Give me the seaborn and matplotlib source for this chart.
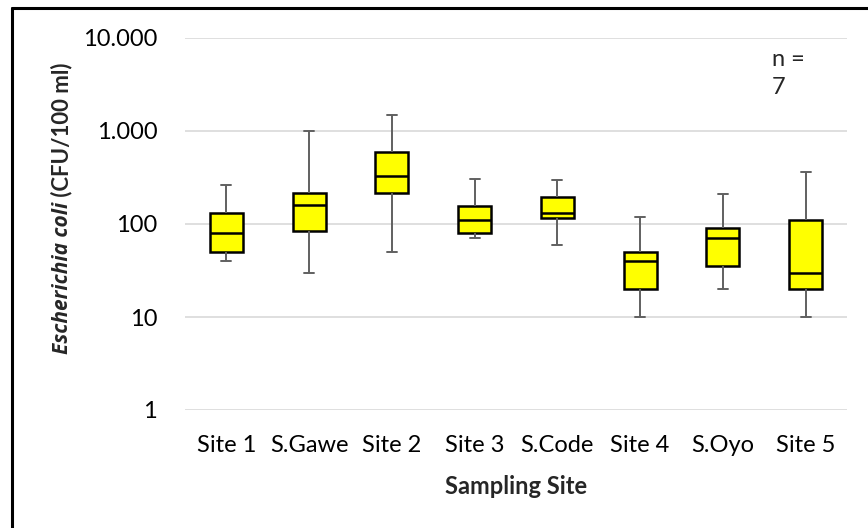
import numpy as np
import pandas as pd
import matplotlib
matplotlib.use("Agg")
import matplotlib.pyplot as plt
from matplotlib.lines import Line2D
from matplotlib import font_manager as fm
import seaborn as sns

# Five-number summaries (min, Q1, median, Q3, max) of E. coli counts per site
sites = ["Site 1", "S.Gawe", "Site 2", "Site 3", "S.Code", "Site 4", "S.Oyo", "Site 5"]
minimum = [40, 30, 50, 70, 60, 10, 20, 10]
q1 = [50, 85, 217, 80, 115, 20, 35, 20]
median = [80, 160, 330, 110, 130, 40, 70, 30]
q3 = [130, 215, 600, 155, 195, 50, 90, 110]
maximum = [262, 1000, 1490, 302, 300, 120, 210, 365]

ytick_values = [1, 10, 100, 1000, 10000]
ytick_labels = ["1", "10", "100", "1.000", "10.000"]

rows = []
for s, a, b, c, d, e in zip(sites, minimum, q1, median, q3, maximum):
    for v in (a, b, c, d, e):
        rows.append({"site": s, "count": v})
df = pd.DataFrame(rows)

sns.set_theme(style="white")
plt.rcParams["font.family"] = ["Lato", "DejaVu Sans"]


def bold_italic_file(candidates):
    """Font file of the first installed family that ships a bold italic face."""
    for fam in candidates:
        for f in fm.fontManager.ttflist:
            w = f.weight if isinstance(f.weight, int) else 400
            if f.name == fam and f.style in ("italic", "oblique") and 650 <= w <= 750:
                return f.fname
    return None


bi_file = bold_italic_file(["Open Sans", "Noto Sans", "Liberation Sans", "Lato", "DejaVu Sans"])
species_font = (fm.FontProperties(fname=bi_file, size=15) if bi_file
                else fm.FontProperties(family="DejaVu Sans", style="italic", weight="bold", size=15))

W, H = 868, 528
fig = plt.figure(figsize=(W / 100, H / 100), dpi=100)
ax = fig.add_axes([185 / W, 1 - 410 / H, (847 - 185) / W, (410 - 38) / H])

sns.boxplot(
    data=df, x="site", y="count", order=sites, ax=ax,
    whis=(0, 100), width=0.4, log_scale=True,
    color="#ffff00", linecolor="black", linewidth=1.6,
    fliersize=0, saturation=1, capwidths=0.12,
    whiskerprops=dict(color="#606060", linewidth=1.4),
    capprops=dict(color="#606060", linewidth=1.4),
    medianprops=dict(color="black", linewidth=1.8),
    boxprops=dict(edgecolor="black", linewidth=1.8),
)

ax.set_ylim(1, 10000)
ax.set_xlim(-0.5, len(sites) - 0.5)
ax.set_yticks(ytick_values, ytick_labels)
ax.yaxis.set_minor_locator(matplotlib.ticker.NullLocator())
ax.grid(axis="y", color="#d9d9d9", linewidth=1.2)
ax.set_axisbelow(True)
for sp in ax.spines.values():
    sp.set_visible(False)
ax.tick_params(axis="both", length=0, labelsize=17, colors="black")
ax.tick_params(axis="y", pad=20)
ax.tick_params(axis="x", pad=18)

ax.set_xlabel("Sampling Site", fontsize=17, fontweight="bold")
ax.xaxis.set_label_coords(0.5, (410 - 475) / 372)
ax.set_ylabel("")

# y-axis title: italic species name followed by the unit, stacked bottom-to-top
renderer = fig.canvas.get_renderer()
part1 = fig.text(62 / W, 0, "Escherichia coli", rotation=90, ha="center", va="bottom",
                 fontproperties=species_font)
part2 = fig.text(62 / W, 0, " (CFU/100 ml)", rotation=90, ha="center", va="bottom",
                 fontsize=16, fontweight="bold")
h1 = part1.get_window_extent(renderer).height
h2 = part2.get_window_extent(renderer).height
center_y = H - 208
y0 = center_y - (h1 + h2) / 2
part1.set_y(y0 / H)
part2.set_y((y0 + h1) / H)

ax.text(0.887, 0.941, "n =", transform=ax.transAxes, fontsize=17, va="center", ha="left")
ax.text(0.887, 0.866, "7", transform=ax.transAxes, fontsize=17, va="center", ha="left")

# chart frame (left and top edges)
fig.add_artist(Line2D([12 / W, 12 / W], [0, 1 - 8 / H], color="black", linewidth=2.2,
                      transform=fig.transFigure))
fig.add_artist(Line2D([12 / W, 1], [1 - 8 / H, 1 - 8 / H], color="black", linewidth=2.2,
                      transform=fig.transFigure))

fig.savefig("out.png", dpi=100, facecolor="white")
